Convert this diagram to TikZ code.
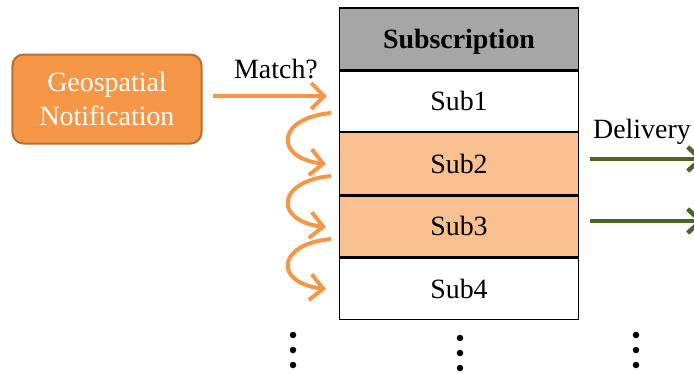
\documentclass[tikz,border=0pt]{standalone}
\usepackage{fontspec}
\setmainfont{Liberation Serif}
\usetikzlibrary{arrows.meta}
\definecolor{geoorange}{HTML}{F79646}
\definecolor{geoborder}{HTML}{B9702F}
\definecolor{rowfill}{HTML}{FAC090}
\definecolor{headfill}{HTML}{A6A6A6}
\definecolor{delgreen}{HTML}{4F6228}
\tikzset{
  txt/.style={font=\fontsize{28}{34}\selectfont},
  row/.style={draw=black, line width=1.3bp, minimum width=239bp, inner sep=0pt, txt},
  orarrow/.style={draw=geoorange, line width=4bp, -{Straight Barb[length=13bp,width=26bp]}},
  grarrow/.style={draw=delgreen, line width=4.5bp, -{Straight Barb[length=13bp,width=24bp]}},
  dotmark/.style={circle, fill=black, inner sep=0pt, minimum size=6.5bp},
}
\begin{document}
\begin{tikzpicture}[x=1bp,y=-1bp]
\useasboundingbox (0,0) rectangle (694,373);
% table
\node[row, fill=headfill, minimum height=62bp, text depth=-2bp] (head) at (459,39) {\textbf{Subscription}};
\node[row, fill=white, minimum height=60bp, anchor=north] (s1) at (head.south) {Sub1};
\node[row, fill=rowfill, minimum height=62bp, anchor=north] (s2) at (s1.south) {Sub2};
\node[row, fill=rowfill, minimum height=61bp, anchor=north] (s3) at (s2.south) {Sub3};
\node[row, fill=white, minimum height=61bp, anchor=north] (s4) at (s3.south) {Sub4};
% notification
\node[draw=geoborder, fill=geoorange, line width=2bp, rounded corners=11bp,
      minimum width=189bp, minimum height=89bp, align=center, text=white, txt]
      (geo) at (107,99) {Geospatial\\Notification};
% match arrow
\coordinate (m0) at (213,96);
\coordinate (m1) at (327,96);
\draw[orarrow] (m0) -- (m1);
\node[txt, anchor=base] (match) at (276,78) {Match?};
% curved arrows
\coordinate (c1a) at (331,113); \coordinate (c1b) at (326,164);
\coordinate (c2a) at (331,176); \coordinate (c2b) at (326,227);
\coordinate (c3a) at (331,239); \coordinate (c3b) at (326,289);
\draw[orarrow] (c1a) .. controls (276,118) and (274,158) .. (c1b);
\draw[orarrow] (c2a) .. controls (276,181) and (274,221) .. (c2b);
\draw[orarrow] (c3a) .. controls (276,244) and (274,283) .. (c3b);
% delivery arrows
\coordinate (d2) at (704,159);
\coordinate (d3) at (704,221);
\draw[grarrow] (590,159) -- (d2);
\draw[grarrow] (590,221) -- (d3);
\node[txt, anchor=base west, inner sep=0pt] (deliv) at (593,138) {Delivery};
% dots
\foreach \x/\y [count=\i] in {293/0, 460/3, 636/0}{
  \node[dotmark] (dA\i) at (\x,335+\y) {};
  \node[dotmark] (dB\i) at (\x,350+\y) {};
  \node[dotmark] (dC\i) at (\x,365+\y) {};
}
\end{tikzpicture}
\end{document}
